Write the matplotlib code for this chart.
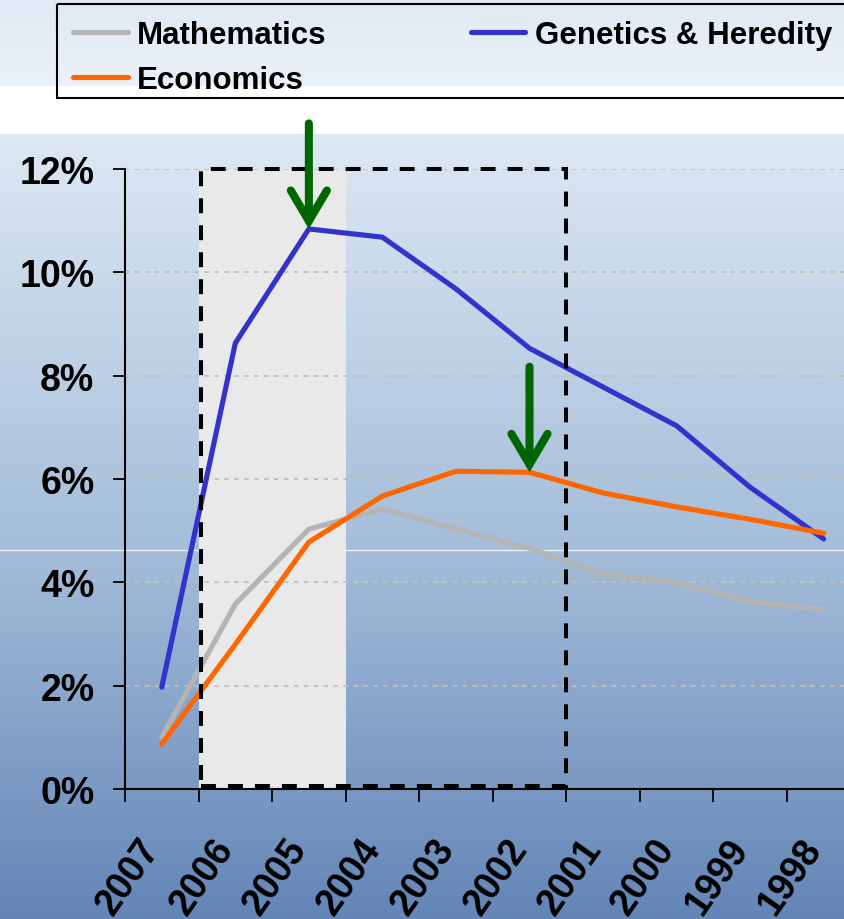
import numpy as np
import matplotlib.pyplot as plt
from matplotlib.lines import Line2D
from matplotlib.patches import Rectangle
from matplotlib.colors import to_rgb
from matplotlib.transforms import ScaledTranslation

plt.rcParams['font.family'] = ['Liberation Sans', 'DejaVu Sans']
plt.rcParams['font.weight'] = 'bold'

# data (share of papers, %), years run backwards along the x axis
years = ['2007', '2006', '2005', '2004', '2003', '2002', '2001', '2000', '1999', '1998']
mathematics = [1.0, 3.58, 5.03, 5.42, 5.03, 4.66, 4.16, 4.0, 3.62, 3.48]
genetics = [1.97, 8.63, 10.84, 10.68, 9.68, 8.53, 7.78, 7.03, 5.84, 4.84]
economics = [0.87, 2.8, 4.78, 5.67, 6.15, 6.13, 5.73, 5.46, 5.22, 4.95]

W, H = 845, 920


def gradient_rows(stops, n):
    # stops: list of (row, colour)
    rows = np.arange(n)
    pos = [s[0] for s in stops]
    cols = np.array([to_rgb(s[1]) for s in stops])
    return np.stack([np.interp(rows, pos, cols[:, k]) for k in range(3)], axis=1)


def main():
    fig = plt.figure(figsize=(W / 100, H / 100), dpi=100)

    # slide-like background: light band, white strip, blue gradient
    img = np.ones((H, 3))
    img[:87] = gradient_rows([(0, '#e0e9f4'), (86, '#ebf1f8')], 87)
    img[135:] = gradient_rows([(0, '#dde8f3'), (416, '#a4bdd9'), (785, '#6385b7')], H - 135)
    bg = fig.add_axes([0, 0, 1, 1])
    bg.imshow(np.repeat(img[:, None, :], 4, axis=1), aspect='auto',
              extent=[0, W, H, 0], interpolation='bilinear')
    bg.axhline(551, color='white', lw=1.0, alpha=0.8)
    # legend frame runs off the right edge, as in the slide
    bg.add_patch(Rectangle((57, 5), 820, 94, facecolor='none', edgecolor='black',
                           lw=1.5, zorder=5))
    bg.set_xlim(0, W)
    bg.set_ylim(H, 0)
    bg.axis('off')

    ax = fig.add_axes([125 / W, 1 - 790 / H, 720 / W, 620 / H])
    ax.patch.set_alpha(0)
    x = np.arange(len(years))

    # highlighted period
    ax.add_patch(Rectangle((0.5, 0), 2.0, 12, facecolor='#e9e9e9',
                           edgecolor='none', zorder=0.3))
    ax.add_patch(Rectangle((0.53, 0.05), 4.97, 11.95, facecolor='none', edgecolor='black',
                           lw=2.9, linestyle=(0, (3.7, 3.0)), zorder=4, clip_on=False))

    ax.plot(x, mathematics, color='#b4b4b4', lw=3.7, zorder=2, solid_capstyle='round')
    ax.plot(x, economics, color='#ff6600', lw=3.7, zorder=2.2, solid_capstyle='round')
    ax.plot(x, genetics, color='#3333cc', lw=3.7, zorder=2.1, solid_capstyle='round')

    # green arrows pointing at the peaks
    for xi, yi in [(2, genetics[2]), (5, economics[5])]:
        ax.annotate('', xy=(xi, yi), xytext=(0, 76), textcoords='offset points',
                    arrowprops=dict(arrowstyle='->, head_length=2.2, head_width=1.3',
                                    color='#006600', lw=5.8, shrinkA=0, shrinkB=0,
                                    mutation_scale=10, capstyle='round',
                                    joinstyle='miter'),
                    zorder=6, annotation_clip=False)

    ax.set_xlim(-0.5, 9.29)
    ax.set_ylim(0, 12)
    ax.set_yticks(range(0, 13, 2))
    ax.set_yticklabels([f'{v}%' for v in range(0, 13, 2)])
    ax.yaxis.grid(True, color='#c2bfbb', linestyle=(0, (2.5, 3)), lw=1.3)
    ax.set_axisbelow(True)

    # year labels: slanted, ending just left of each category centre
    ax.set_xticks(x)
    ax.set_xticklabels([])
    lab_tr = ax.get_xaxis_transform() + ScaledTranslation(-0.09, -0.53, fig.dpi_scale_trans)
    for xi, yr in zip(x, years):
        ax.text(xi, 0, yr, transform=lab_tr, rotation=55, ha='right', va='center',
                rotation_mode='anchor', fontsize=27, clip_on=False)
    ax.set_xticks(np.arange(-0.5, 9.0, 1.0), minor=True)
    ax.tick_params(axis='x', which='major', length=0)
    ax.tick_params(axis='x', which='minor', length=9, width=1.3, direction='out')
    ax.tick_params(axis='y', length=9, width=1.3, direction='out', pad=13, labelsize=27)

    for side in ['top', 'right']:
        ax.spines[side].set_visible(False)
    for side in ['left', 'bottom']:
        ax.spines[side].set_linewidth(1.5)

    handles = [
        Line2D([], [], color='#b4b4b4', lw=3.7, solid_capstyle='round'),
        Line2D([], [], color='#ff6600', lw=3.7, solid_capstyle='round'),
        Line2D([], [], color='#3333cc', lw=3.7, solid_capstyle='round'),
    ]
    labels = ['Mathematics', 'Economics', 'Genetics & Heredity']
    fig.legend(handles, labels, loc='upper left', bbox_to_anchor=(57 / W, 1 - 5 / H),
               ncol=2, fontsize=22.5, frameon=False,
               borderaxespad=0, borderpad=0.52, handlelength=1.75,
               handletextpad=0.3, columnspacing=4.6, labelspacing=0.48)

    fig.savefig('out.png', dpi=100)
    plt.close(fig)


if __name__ == '__main__':
    main()
